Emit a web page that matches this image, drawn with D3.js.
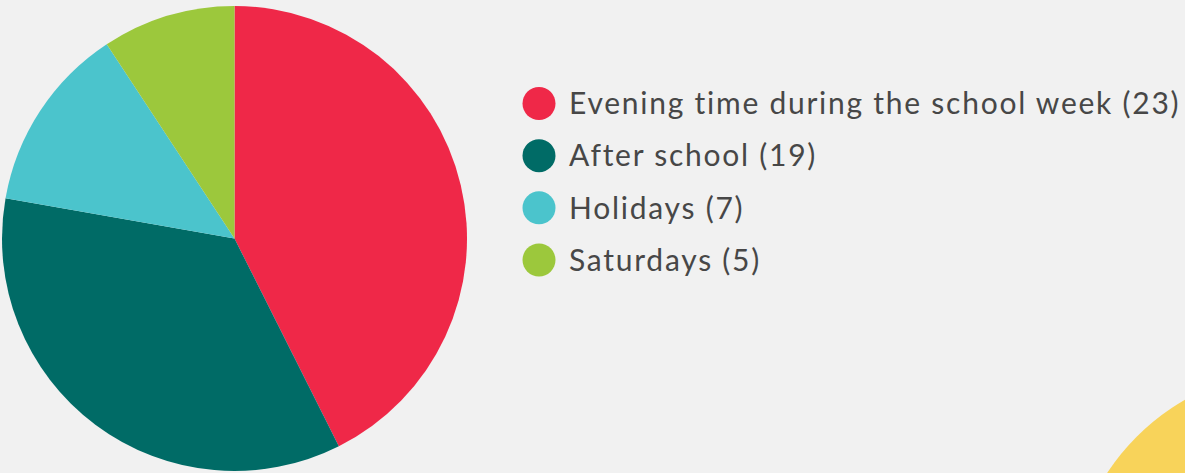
<!DOCTYPE html>
<html>
<head>
<meta charset="utf-8">
<script src="https://cdn.jsdelivr.net/npm/d3@7"></script>
<style>
  html, body { margin: 0; padding: 0; background: #f1f1f1; }
  #chart-container { width: 1185px; height: 473px; overflow: hidden; }
  .legend-label { font-family: Lato, sans-serif; font-size: 30px; letter-spacing: 1.75px; fill: #474747; }
</style>
</head>
<body>
<div id="chart-container"></div>
<script>
const categories = ['Evening time during the school week', 'After school', 'Holidays', 'Saturdays']
const counts = [23, 19, 7, 5]
const colours = ['#ef2848', '#006b66', '#4bc4cc', '#9cc83c']

const {
  offsetWidth: containerWidth,
  offsetHeight: containerHeight
} = document.getElementById('chart-container')

const svg = d3.select('#chart-container').append('svg')
  .attr('width', containerWidth)
  .attr('height', containerHeight)

// decorative yellow blob in the corner
svg.append('circle')
  .attr('cx', 1300)
  .attr('cy', 600)
  .attr('r', 231)
  .attr('fill', '#f8d35a')

const radius = 232.5
const pieGroup = svg.append('g')
  .attr('transform', 'translate(234.5,238.5)')

const pie = d3.pie().sort(null).value(function (d) { return d })
const arc = d3.arc().innerRadius(0).outerRadius(radius)
const colour = d3.scaleOrdinal().domain(categories).range(colours)

pieGroup.selectAll('path')
  .data(pie(counts))
  .enter().append('path')
  .attr('d', arc)
  .attr('fill', function (d, i) { return colour(categories[i]) })

// legend
const legendY = d3.scalePoint()
  .domain(categories)
  .range([103.5, 260])

const legend = svg.append('g')
  .selectAll('g')
  .data(categories)
  .enter().append('g')
  .attr('transform', function (d) { return 'translate(539,' + legendY(d) + ')' })

legend.append('circle')
  .attr('r', 16.5)
  .attr('fill', function (d) { return colour(d) })

legend.append('text')
  .attr('class', 'legend-label')
  .attr('x', 30)
  .attr('dy', '0.36em')
  .text(function (d, i) { return d + ' (' + counts[i] + ')' })
</script>
</body>
</html>
